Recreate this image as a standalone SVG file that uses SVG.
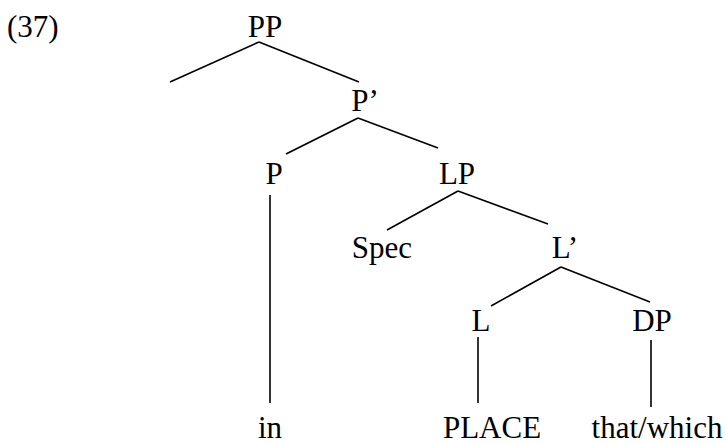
<svg xmlns="http://www.w3.org/2000/svg" width="726" height="443" viewBox="0 0 726 443">
<style>
text{font-family:"Liberation Serif","Times New Roman",serif;font-size:31px;fill:#000;text-anchor:middle}
.e line{stroke:#000;stroke-width:1.6;stroke-linecap:butt}
</style>
<rect width="726" height="443" fill="#fff"/>
<text x="7" y="37" style="text-anchor:start">(37)</text>
<g class="e" id="connectors">
<line x1="259" y1="42" x2="170" y2="82"/>
<line x1="259" y1="42" x2="359" y2="82"/>
<line x1="358" y1="118" x2="286" y2="154"/>
<line x1="358" y1="118" x2="438" y2="148"/>
<line x1="270" y1="195" x2="270" y2="403"/>
<line x1="458" y1="191" x2="387" y2="230"/>
<line x1="458" y1="191" x2="548" y2="224"/>
<line x1="561" y1="267" x2="491" y2="306"/>
<line x1="561" y1="267" x2="650" y2="302"/>
<line x1="478" y1="337" x2="478" y2="403"/>
<line x1="651" y1="340" x2="651" y2="407"/>
</g>
<g id="PP"><text x="265" y="37">PP</text></g>
<g id="Pbar"><text x="365" y="111">P’</text></g>
<g id="P"><text x="274" y="184">P</text></g>
<g id="LP"><text x="457" y="184">LP</text></g>
<g id="Spec"><text x="382" y="258">Spec</text></g>
<g id="Lbar"><text x="565" y="258">L’</text></g>
<g id="L"><text x="481" y="331">L</text></g>
<g id="DP"><text x="652" y="331">DP</text></g>
<g id="in"><text x="270" y="438">in</text></g>
<g id="PLACE"><text x="492" y="438">PLACE</text></g>
<g id="thatwhich"><text x="657" y="438">that/which</text></g>
</svg>
